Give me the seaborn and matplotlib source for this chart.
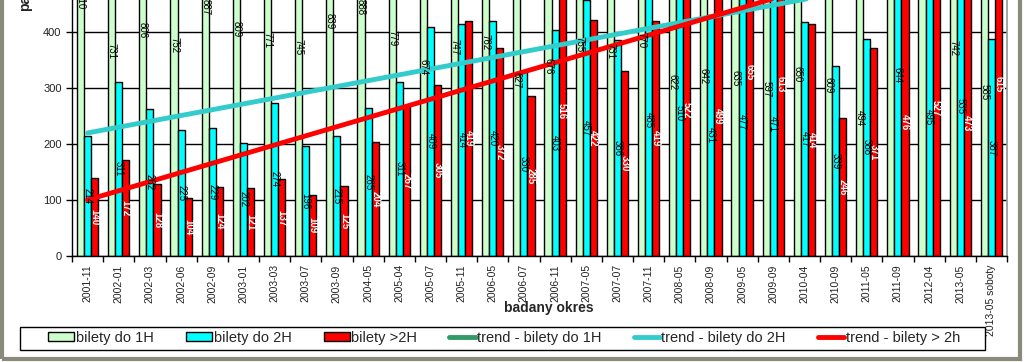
import numpy as np
import pandas as pd
import matplotlib
matplotlib.use("Agg")
import matplotlib.pyplot as plt
import seaborn as sns
from matplotlib.patches import Patch, Rectangle
from matplotlib.lines import Line2D
from matplotlib.ticker import FixedLocator


# data
okresy = ["2001-11", "2002-01", "2002-03", "2002-06", "2002-09", "2003-01", "2003-03",
          "2003-07", "2003-09", "2004-05", "2005-04", "2005-07", "2005-11", "2006-05",
          "2006-07", "2006-11", "2007-05", "2007-07", "2007-11", "2008-05", "2008-09",
          "2009-05", "2009-09", "2010-04", "2010-09", "2011-05", "2011-09", "2012-04",
          "2013-05", "2013-05 soboty"]

# 2011-09 and 2012-04 (1H) are off the top of the visible chart - estimates
bilety_1h = [910, 731, 806, 752, 887, 809, 771, 745, 839, 888, 779, 674, 747, 762, 627,
             676, 755, 731, 770, 622, 642, 635, 597, 650, 609, 494, 1060, 1010, 742, 585]
bilety_2h = [214, 311, 262, 225, 229, 202, 274, 196, 215, 265, 311, 409, 414, 420, 330,
             403, 457, 386, 485, 510, 431, 477, 471, 417, 339, 388, 644, 495, 535, 387]
bilety_pow_2h = [140, 172, 128, 104, 124, 121, 137, 109, 125, 204, 267, 305, 419, 372, 285,
                 516, 422, 330, 419, 522, 499, 655, 613, 414, 246, 371, 476, 527, 473, 615]

serie = ["bilety do 1H", "bilety do 2H", "bilety >2H"]
kolory = ["#ccffcc", "#00ffff", "#ff0000"]
trendy = ["trend - bilety do 1H", "trend - bilety do 2H", "trend - bilety > 2h"]
kolory_trend = ["#339966", "#33cccc", "#ff0000"]

ds = pd.DataFrame({
    "okres": okresy * 3,
    "typ": [s for s in serie for _ in okresy],
    "liczba": bilety_1h + bilety_2h + bilety_pow_2h,
})

sns.set_theme(style="white")
plt.rcParams['font.family'] = ['Liberation Sans', 'DejaVu Sans']

fig = plt.figure(figsize=(10.24, 3.62), dpi=100)
ax = fig.add_axes([72 / 1024, 1 - 256 / 362, 935 / 1024, 256 / 362])

sns.barplot(data=ds, x="okres", y="liczba", hue="typ", hue_order=serie,
            palette=kolory, saturation=1, width=0.68, edgecolor="black",
            linewidth=1, legend=False, ax=ax)

# linear trend lines
x = np.arange(len(okresy))
for vals, col in zip([bilety_1h, bilety_2h, bilety_pow_2h], kolory_trend):
    m, b = np.polyfit(x, vals, 1)
    sns.lineplot(x=x, y=m * x + b, color=col, linewidth=3.5, ax=ax)

# value labels in the middle of the full bar (Excel style, not the visible part)
for cont, col, fw in zip(ax.containers, ["black", "black", "white"],
                         ["normal", "normal", "bold"]):
    for bar in cont:
        h = bar.get_height()
        ax.text(bar.get_x() + bar.get_width() / 2, h / 2, f"{h:.0f}", rotation=-90,
                ha="center", va="center", fontsize=7, color=col, fontweight=fw)

ax.set_xlim(-0.5, len(okresy) - 0.5)
ax.set_ylim(0, 457)
ax.set_yticks([0, 100, 200, 300, 400])
ax.yaxis.grid(True, color="black", linewidth=1)
ax.set_axisbelow(True)
ax.set_xticks(x)
ax.set_xticklabels(okresy, rotation=90, fontsize=7.5, color="#222222")
ax.xaxis.set_minor_locator(FixedLocator(np.arange(-0.5, len(okresy), 1)))
ax.tick_params(axis="x", which="major", length=0, pad=6)
ax.tick_params(axis="x", which="minor", length=4, width=1, color="black", bottom=True)
ax.tick_params(axis="y", length=4, width=1, color="black", left=True, labelsize=8,
               labelcolor="#222222")
ax.set_xlabel("")
ax.set_ylabel("")
for s in ["left", "bottom"]:
    ax.spines[s].set_color("black")
    ax.spines[s].set_linewidth(1)
ax.spines["right"].set_color("#999999")
ax.spines["top"].set_visible(False)

fig.text(549 / 1024, 1 - 308 / 362, "badany okres", ha="center", va="center",
         fontsize=10, fontweight="bold")
fig.text(25 / 1024, 1 - 11 / 362, "pasażerowie", rotation=90, ha="center",
         va="bottom", fontsize=10, fontweight="bold")

# legend
uchwyty = [Patch(facecolor=c, edgecolor="black", label=s) for s, c in zip(serie, kolory)]
uchwyty += [Line2D([0], [0], color=c, linewidth=3.5, label=t)
            for t, c in zip(trendy, kolory_trend)]
leg = fig.legend(handles=uchwyty, ncol=6, loc="center",
                 bbox_to_anchor=(504 / 1024, 1 - 338 / 362),
                 frameon=False, fontsize=10.5, handlelength=1.8, handleheight=0.6,
                 handletextpad=0.1, columnspacing=2.2)
fig.patches.append(Rectangle((20 / 1024, 1 - 350 / 362), 965 / 1024, 23 / 362,
                             transform=fig.transFigure, fill=False,
                             edgecolor="black", linewidth=1))

# chart area border
fig.patches.append(Rectangle((0.002, 0.008), 0.994, 1.2, transform=fig.transFigure,
                             fill=False, edgecolor="#8a8a7a", linewidth=3))

fig.savefig("out.png", dpi=100)
